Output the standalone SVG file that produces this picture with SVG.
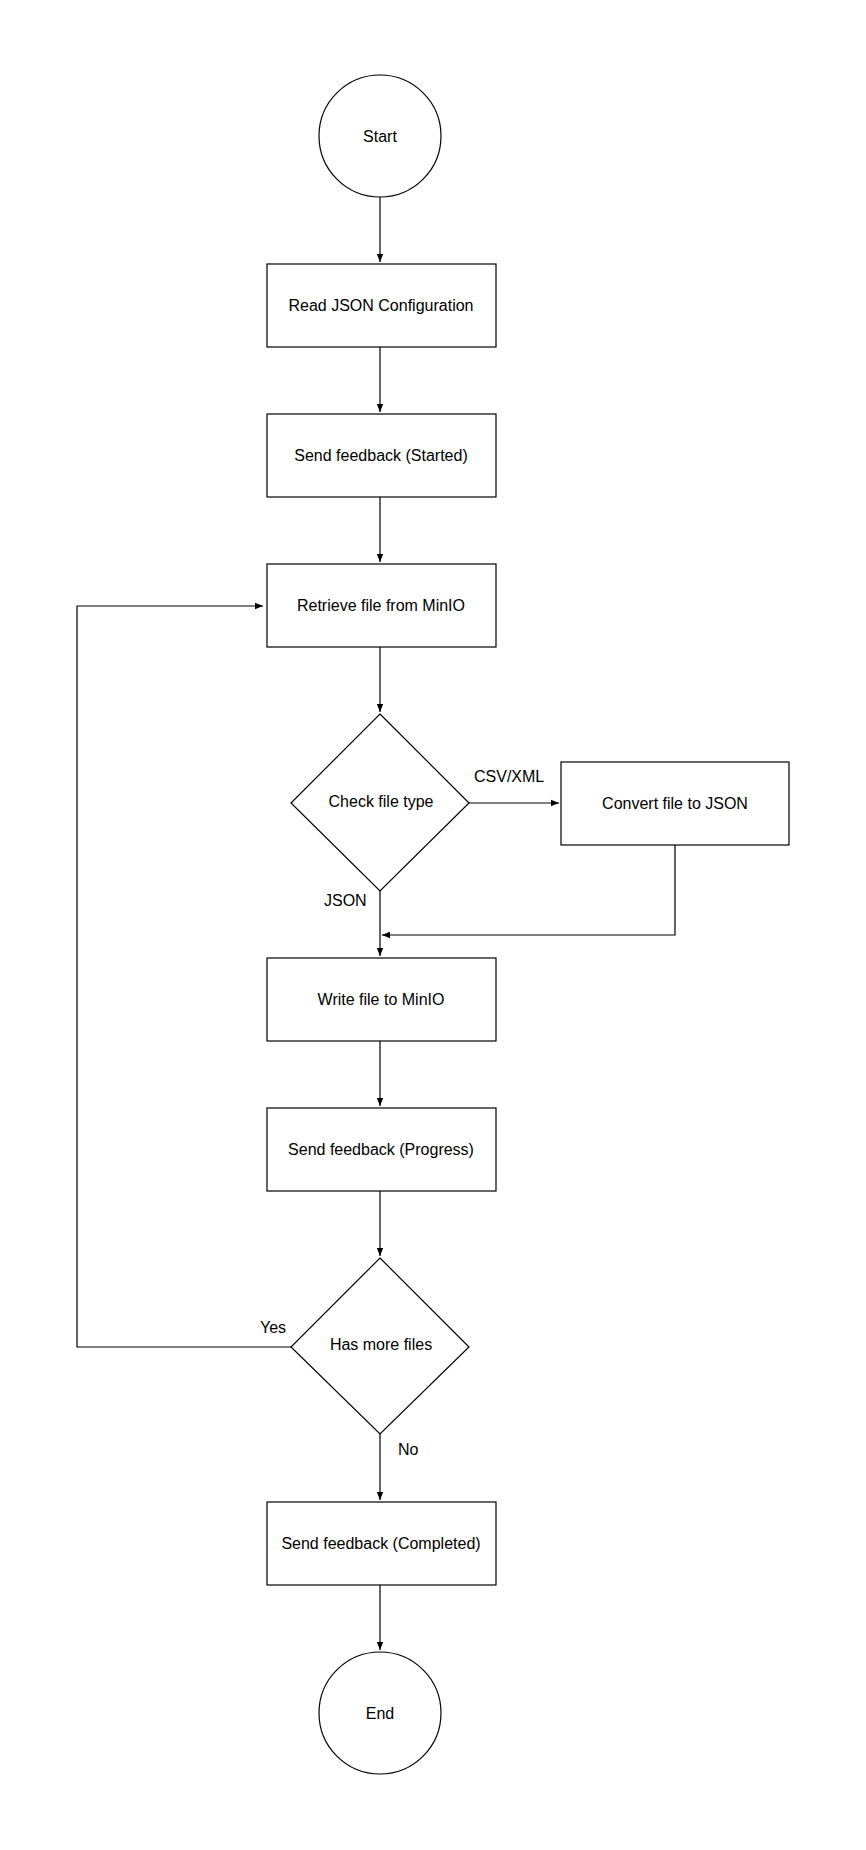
<svg xmlns="http://www.w3.org/2000/svg" width="866" height="1850" viewBox="0 0 866 1850">
<style>
.n{fill:#fff;stroke:#000;stroke-width:1.2}
.t{font-family:"Liberation Sans",Arial,sans-serif;font-size:16px;fill:#000;text-anchor:middle;dominant-baseline:central}
.l{font-family:"Liberation Sans",Arial,sans-serif;font-size:16px;fill:#000;dominant-baseline:central}
.c{fill:none;stroke:#000;stroke-width:1.2}
</style>
<defs><marker id="a" viewBox="0 0 10 10" refX="10" refY="5" markerWidth="8" markerHeight="8" orient="auto" markerUnits="userSpaceOnUse"><path d="M0,1 L10,5 L0,9 z" fill="#000"/></marker></defs>
<rect width="866" height="1850" fill="#fff"/>
<g id="connectors">
<path class="c" d="M380,197 V262" marker-end="url(#a)"/>
<path class="c" d="M380,347 V412" marker-end="url(#a)"/>
<path class="c" d="M380,497 V562" marker-end="url(#a)"/>
<path class="c" d="M380,647 V712" marker-end="url(#a)"/>
<path class="c" d="M469,803 H559" marker-end="url(#a)"/>
<path class="c" d="M675,845 V935 H382" marker-end="url(#a)"/>
<path class="c" d="M380,891 V956" marker-end="url(#a)"/>
<path class="c" d="M380,1041 V1106" marker-end="url(#a)"/>
<path class="c" d="M380,1191 V1256" marker-end="url(#a)"/>
<path class="c" d="M291,1347 H77 V606 H263" marker-end="url(#a)"/>
<path class="c" d="M380,1434 V1500" marker-end="url(#a)"/>
<path class="c" d="M380,1585 V1650" marker-end="url(#a)"/>
<text class="l" x="474" y="776">CSV/XML</text>
<text class="l" x="324" y="900">JSON</text>
<text class="l" x="260" y="1327">Yes</text>
<text class="l" x="398" y="1449">No</text>
</g>
<g id="start"><circle class="n" cx="380" cy="136" r="61"/><text class="t" x="380" y="136">Start</text></g>
<g id="read"><rect class="n" x="267" y="264" width="229" height="83"/><text class="t" x="381" y="305">Read JSON Configuration</text></g>
<g id="started"><rect class="n" x="267" y="414" width="229" height="83"/><text class="t" x="381" y="455">Send feedback (Started)</text></g>
<g id="retrieve"><rect class="n" x="267" y="564" width="229" height="83"/><text class="t" x="381" y="605">Retrieve file from MinIO</text></g>
<g id="check"><path class="n" d="M380,714 L469,803 L380,891 L291,803 Z"/><text class="t" x="381" y="801">Check file type</text></g>
<g id="convert"><rect class="n" x="561" y="762" width="228" height="83"/><text class="t" x="675" y="803">Convert file to JSON</text></g>
<g id="write"><rect class="n" x="267" y="958" width="229" height="83"/><text class="t" x="381" y="999">Write file to MinIO</text></g>
<g id="progress"><rect class="n" x="267" y="1108" width="229" height="83"/><text class="t" x="381" y="1149">Send feedback (Progress)</text></g>
<g id="more"><path class="n" d="M380,1258 L469,1347 L380,1434 L291,1347 Z"/><text class="t" x="381" y="1344">Has more files</text></g>
<g id="completed"><rect class="n" x="267" y="1502" width="229" height="83"/><text class="t" x="381" y="1543">Send feedback (Completed)</text></g>
<g id="end"><circle class="n" cx="380" cy="1713" r="61"/><text class="t" x="380" y="1713">End</text></g>
</svg>
